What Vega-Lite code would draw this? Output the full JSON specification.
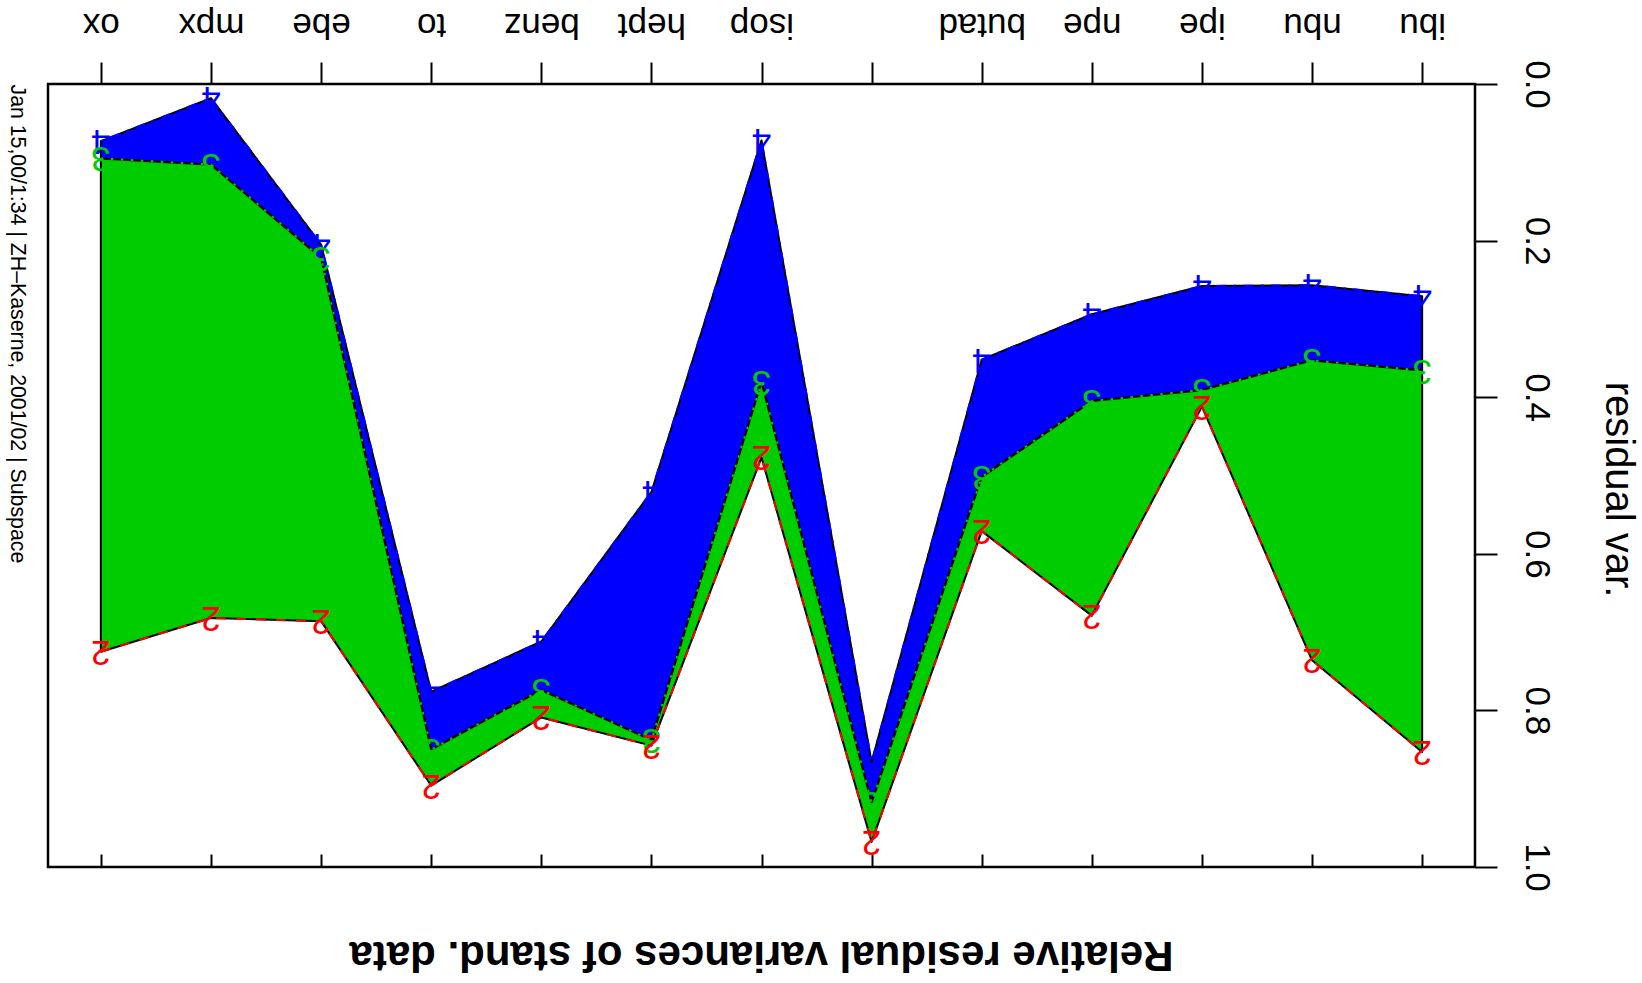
{
  "$schema": "https://vega.github.io/schema/vega-lite/v6.json",
  "width": 1427,
  "height": 783,
  "autosize": {"type": "none"},
  "padding": {"left": 48, "top": 84, "right": 167, "bottom": 116},
  "background": "white",
  "config": {
    "view": {"stroke": "black", "strokeWidth": 2.5},
    "font": "Liberation Sans",
    "axis": {"labelColor": "black", "titleColor": "black", "tickColor": "black", "labelFont": "Liberation Sans", "titleFont": "Liberation Sans"}
  },
  "title": {
    "text": "Relative residual variances of stand. data",
    "orient": "bottom",
    "angle": 180,
    "anchor": "middle",
    "frame": "group",
    "font": "Liberation Sans",
    "fontSize": 42,
    "fontWeight": "bold",
    "baseline": "alphabetic",
    "color": "black",
    "offset": 51
  },
  "data": {
    "values": [
      {"idx": 1, "compound": "ibu", "d4": 0.271, "d3": 0.366, "d2": 0.853},
      {"idx": 2, "compound": "nbu", "d4": 0.257, "d3": 0.353, "d2": 0.736},
      {"idx": 3, "compound": "ipe", "d4": 0.258, "d3": 0.391, "d2": 0.412},
      {"idx": 4, "compound": "npe", "d4": 0.294, "d3": 0.405, "d2": 0.679},
      {"idx": 5, "compound": "butad", "d4": 0.352, "d3": 0.502, "d2": 0.571},
      {"idx": 6, "compound": "", "d4": 0.866, "d3": 0.918, "d2": 0.968},
      {"idx": 7, "compound": "isop", "d4": 0.072, "d3": 0.381, "d2": 0.477},
      {"idx": 8, "compound": "hept", "d4": 0.521, "d3": 0.838, "d2": 0.845},
      {"idx": 9, "compound": "benz", "d4": 0.712, "d3": 0.774, "d2": 0.809},
      {"idx": 10, "compound": "to", "d4": 0.776, "d3": 0.85, "d2": 0.896},
      {"idx": 11, "compound": "ebe", "d4": 0.205, "d3": 0.222, "d2": 0.686},
      {"idx": 12, "compound": "mpx", "d4": 0.018, "d3": 0.103, "d2": 0.682},
      {"idx": 13, "compound": "ox", "d4": 0.073, "d3": 0.095, "d2": 0.725}
    ]
  },
  "encoding": {
    "x": {"field": "idx", "type": "quantitative", "scale": {"domain": [0.52, 13.48], "reverse": true, "nice": false, "zero": false}, "axis": null}
  },
  "layer": [
    {
      "mark": {"type": "area", "fill": "#0000FF", "stroke": "black", "strokeWidth": 2, "strokeJoin": "round"},
      "encoding": {
        "x": {
          "field": "idx", "type": "quantitative",
          "scale": {"domain": [0.52, 13.48], "reverse": true, "nice": false, "zero": false},
          "axis": {
            "orient": "top", "values": [1, 2, 3, 4, 5, 6, 7, 8, 9, 10, 11, 12, 13],
            "labelExpr": "['ibu','nbu','ipe','npe','butad','','isop','hept','benz','to','ebe','mpx','ox'][datum.value - 1]",
            "labelAngle": 180, "labelAlign": "center", "labelBaseline": "alphabetic",
            "labelFontSize": 35, "labelPadding": 49, "labelOverlap": false, "labelFlush": false, "labelBound": false,
            "tickSize": 22, "tickWidth": 2, "domain": false, "grid": false, "title": null
          }
        },
        "y": {
          "field": "d4", "type": "quantitative",
          "scale": {"domain": [0, 1], "reverse": true, "nice": false, "zero": false},
          "axis": {
            "orient": "right", "values": [0, 0.2, 0.4, 0.6, 0.8, 1], "format": ".1f",
            "labelAngle": 90, "labelAlign": "center", "labelBaseline": "alphabetic",
            "labelFontSize": 35, "labelPadding": 28, "labelOverlap": false, "labelFlush": false, "labelBound": false,
            "tickSize": 22, "tickWidth": 2, "domain": false, "grid": false,
            "title": "residual var.", "titleAngle": 90, "titleBaseline": "alphabetic", "titleAlign": "center",
            "titleAnchor": "middle", "titleFontSize": 40, "titleFontWeight": "normal", "titlePadding": 52,
            "titleY": 405
          }
        },
        "y2": {"field": "d3"}
      }
    },
    {
      "mark": {"type": "area", "fill": "#00CD00", "stroke": "black", "strokeWidth": 2, "strokeJoin": "round"},
      "encoding": {
        "y": {"field": "d3", "type": "quantitative", "axis": null},
        "y2": {"field": "d2"}
      }
    },
    {
      "mark": {"type": "line", "color": "#0000FF", "strokeWidth": 2, "strokeDash": [2.5, 7.5, 10, 7.5]},
      "encoding": {"y": {"field": "d4", "type": "quantitative", "axis": null}}
    },
    {
      "mark": {"type": "line", "color": "#00CD00", "strokeWidth": 2, "strokeDash": [2.5, 7.5]},
      "encoding": {"y": {"field": "d3", "type": "quantitative", "axis": null}}
    },
    {
      "mark": {"type": "line", "color": "#FF0000", "strokeWidth": 2, "strokeDash": [10, 10]},
      "encoding": {
        "x": {
          "field": "idx", "type": "quantitative",
          "axis": {
            "orient": "bottom", "values": [1, 2, 3, 4, 5, 6, 7, 8, 9, 10, 11, 12, 13],
            "labels": false, "domain": false, "grid": false, "title": null,
            "tickSize": -13, "tickWidth": 2
          }
        },
        "y": {
          "field": "d2", "type": "quantitative",
          "axis": {
            "orient": "left", "labels": false, "ticks": false, "domain": false, "grid": false,
            "title": "Jan 15,00/1:34 | ZH–Kaserne, 2001/02 | Subspace",
            "titleAngle": 90, "titleAlign": "left", "titleBaseline": "alphabetic", "titleAnchor": "start",
            "titleFontSize": 21.3, "titleFontWeight": "normal", "titlePadding": 38
          }
        }
      }
    },
    {
      "mark": {"type": "text", "text": "4", "angle": 180, "fontSize": 35, "color": "#0000FF", "align": "center", "baseline": "middle"},
      "encoding": {"y": {"field": "d4", "type": "quantitative", "axis": null}}
    },
    {
      "mark": {"type": "text", "text": "3", "angle": 180, "fontSize": 35, "color": "#00CD00", "align": "center", "baseline": "middle"},
      "encoding": {"y": {"field": "d3", "type": "quantitative", "axis": null}}
    },
    {
      "mark": {"type": "text", "text": "2", "angle": 180, "fontSize": 35, "color": "#FF0000", "align": "center", "baseline": "middle"},
      "encoding": {"y": {"field": "d2", "type": "quantitative", "axis": null}}
    }
  ],
  "resolve": {"axis": {"x": "independent", "y": "independent"}}
}
